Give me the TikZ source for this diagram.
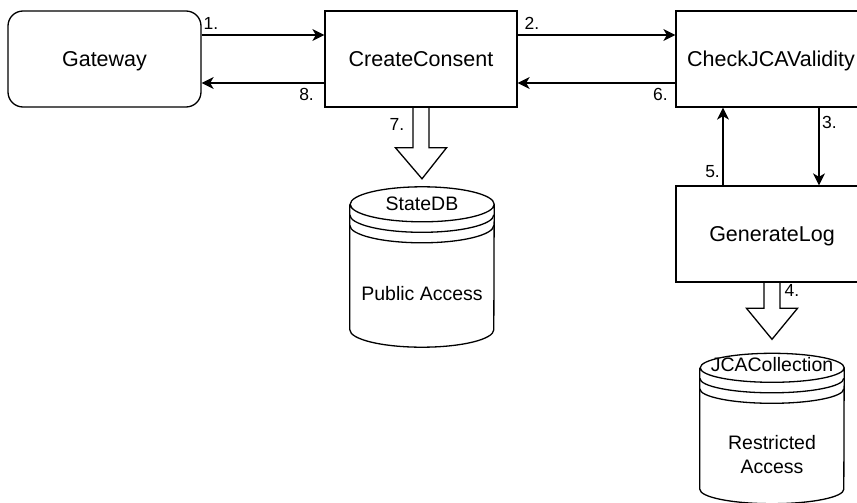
\documentclass[tikz,border=0pt]{standalone}
\usepackage{fontspec}
\setmainfont{Liberation Sans}
\usetikzlibrary{arrows.meta,calc}

\tikzset{
  box/.style={draw, line width=1.3pt, minimum width=192pt, minimum height=96pt, inner sep=0pt, text depth=0pt, font=\fontsize{21.5}{25}\selectfont},
  gwbox/.style={box, minimum width=193pt, rounded corners=15pt},
  flow/.style={draw, line width=1.3pt, -{Stealth[length=12pt,width=12pt,inset=3.5pt]}},
  num/.style={font=\fontsize{17.5}{19}\selectfont, inner xsep=2.5pt, inner ysep=4.5pt},
  dbtext/.style={font=\fontsize{19.5}{23}\selectfont, inner sep=0pt, align=center},
  dbbody/.style={minimum width=144pt, inner sep=0pt},
}

% datastore outline around a body node: #1 body, #2 end radius
\newcommand{\datastore}[2]{%
  \draw[line width=1.3pt] ([yshift=-#2pt]#1.north west) -- ([yshift=#2pt]#1.south west)
    arc[start angle=180, end angle=360, x radius=72pt, y radius=#2pt]
    -- ([yshift=-#2pt]#1.north east)
    arc[start angle=0, end angle=180, x radius=72pt, y radius=#2pt]
    arc[start angle=180, end angle=360, x radius=72pt, y radius=#2pt];
  \foreach \off in {10.5,21}
    \draw[line width=1.3pt] ([yshift=-#2pt-\off pt]#1.north west)
      arc[start angle=180, end angle=360, x radius=72pt, y radius=#2pt];
}

% hollow block arrow going down from #1 to the tip #2
\newcommand{\fatarrow}[2]{%
  \draw[line width=1.3pt, line join=miter] let \p1=(#1), \p2=(#2) in
    (\x1-8pt,\y1) -- (\x1-8pt,\y2+31pt) -- (\x1-25.5pt,\y2+31pt) -- (\x2,\y2)
    -- (\x1+25.5pt,\y2+31pt) -- (\x1+8pt,\y2+31pt) -- (\x1+8pt,\y1);
}

\begin{document}
\begin{tikzpicture}[x=1pt, y=-1pt]
  \fill[white] (0,0) rectangle (857,503);
  \useasboundingbox (0,0) rectangle (857,503);

  % services
  \node[gwbox] (gw) at (104.5,59) {Gateway};
  \node[box] (cc) at (421,59) {CreateConsent};
  \node[box] (chk) at (772,59) {\hspace*{-2pt}CheckJCAValidity};
  \node[box] (log) at (772,234) {GenerateLog};

  % stores
  \node[dbbody, minimum height=160pt] (db1) at (422,267) {};
  \datastore{db1}{17.5}
  \node[dbtext] (db1name) at (422,204) {StateDB};
  \node[dbtext] (db1acc) at (422,294) {Public Access};

  \node[dbbody, minimum height=150pt] (db2) at (772,428.5) {};
  \datastore{db2}{14.5}
  \node[dbtext] (db2name) at (772,365) {JCACollection};
  \node[dbtext] (db2acc) at (772,455) {Restricted\\[1pt]Access};

  % calls
  \draw[flow] ([yshift=24pt]gw.east) -- ([yshift=24pt]cc.west) node[num, pos=0.075, above] (n1) {1.};
  \draw[flow] ([yshift=24pt]cc.east) -- ([yshift=24pt]chk.west) node[num, pos=0.09, above] (n2) {2.};
  \draw[flow] ([xshift=47pt]chk.south) -- ([xshift=47pt]log.north) node[num, pos=0.19, right] (n3) {3.};
  \draw[flow] ([xshift=-49pt]log.north) -- ([xshift=-49pt]chk.south) node[num, pos=0.175, left] (n5) {5.};
  \draw[flow] ([yshift=-24pt]chk.west) -- ([yshift=-24pt]cc.east) node[num, pos=0.094, below] (n6) {6.};
  \draw[flow] ([yshift=-24pt]cc.west) -- ([yshift=-24pt]gw.east) node[num, pos=0.145, below] (n8) {8.};

  % writes
  \fatarrow{log.south}{[yshift=14pt]db2.north}
  \node[num, anchor=west] (n4) at ([xshift=10pt,yshift=-8pt]log.south) {4.};
  \fatarrow{cc.south}{[yshift=8pt]db1.north}
  \node[num, anchor=east] (n7) at ([xshift=-14pt,yshift=-17pt]cc.south) {7.};
\end{tikzpicture}
\end{document}
